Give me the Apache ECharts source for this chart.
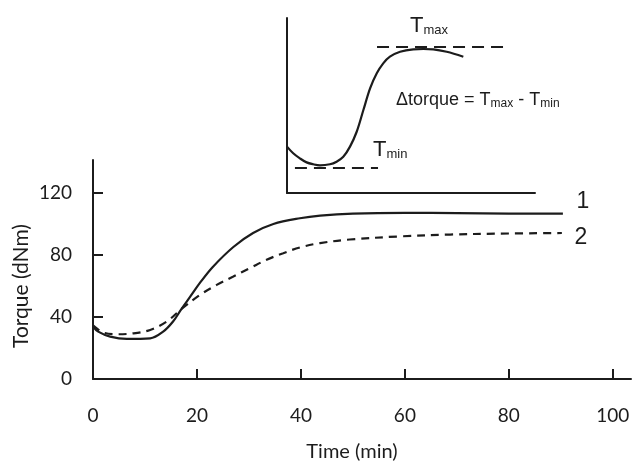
<!DOCTYPE html>
<html>
<head>
<meta charset="utf-8">
<script src="https://cdn.jsdelivr.net/npm/echarts@6/dist/echarts.min.js"></script>
<style>
html,body{margin:0;padding:0;background:#fff;}
#chart{width:634px;height:463px;}
</style>
</head>
<body>
<div id="chart"></div>
<script>
// Main chart data (time in min, torque in dNm)
var time1 = [0, 1, 3.3, 6.5, 11, 13.5, 15.4, 17, 18.7, 20.6, 23, 27, 30.8, 34.7, 39.8, 43.7, 50, 60, 70, 80, 90.4];
var torque1 = [33.8, 30.5, 27.3, 25.8, 26.2, 30.5, 37, 45, 53, 62, 72, 85, 94, 99.8, 103.5, 105.2, 106.5, 107, 106.8, 106.5, 106.5];
var time2 = [0, 2, 4.6, 7.8, 11, 14.2, 17, 20.6, 23.8, 27, 30.2, 33.4, 36.6, 39.8, 43.7, 49.4, 59, 68.7, 78, 90.2];
var torque2 = [34.5, 29.9, 28.8, 29.4, 31.6, 37, 45, 54.2, 60.6, 66, 71.4, 76.8, 81, 84.7, 87.5, 89.8, 91.8, 93, 93.6, 94];
var xTicks = [0, 20, 40, 60, 80, 100];
var yTicks = [0, 40, 80, 120];
var seriesLabels = ['1', '2'];

// Inset schematic (arbitrary units 0-100)
var insetX = [0, 2.5, 5.2, 7.9, 10.6, 13.3, 17.3, 20, 22.7, 25.4, 28.1, 30.8, 33.5, 36.2, 38.8, 41.5, 45.6, 50.9, 55, 59, 64.4, 71.1];
var insetY = [26.5, 22.7, 19.8, 17.5, 16.4, 15.8, 16.4, 17.9, 20.7, 26.5, 35, 47.4, 59.8, 68.4, 74.1, 77.9, 80.7, 82.1, 82.3, 82.1, 80.7, 77.9];
var tminLineX = [3.2, 36.7];
var tminLineY = [14.3, 14.3];
var tmaxLineX = [36.3, 87.9];
var tmaxLineY = [83.4, 83.4];

function zip(a, b) { return a.map(function (v, i) { return [v, b[i]]; }); }

var ink = '#1c1c1c';
var chart = echarts.init(document.getElementById('chart'), null, {renderer: 'canvas'});
var axisFont = 'Lato';

chart.setOption({
  animation: false,
  backgroundColor: '#ffffff',
  grid: [
    {left: 93, top: 160, width: 538, height: 219},
    {left: 287, top: 18, width: 248, height: 175}
  ],
  xAxis: [
    {
      type: 'value', gridIndex: 0, min: 0, max: 103.5,
      axisLine: {show: true, lineStyle: {color: ink, width: 2}},
      axisTick: {show: true, inside: true, length: 10, lineStyle: {color: ink, width: 2}, customValues: xTicks},
      axisLabel: {show: true, margin: 27, fontFamily: axisFont, fontSize: 19, color: ink, customValues: xTicks},
      splitLine: {show: false}
    },
    {
      type: 'value', gridIndex: 1, min: 0, max: 100,
      axisLine: {show: true, onZero: false, lineStyle: {color: ink, width: 2}},
      axisTick: {show: false}, axisLabel: {show: false}, splitLine: {show: false}
    }
  ],
  yAxis: [
    {
      type: 'value', gridIndex: 0, min: 0, max: 141,
      axisLine: {show: true, lineStyle: {color: ink, width: 2}},
      axisTick: {show: true, inside: true, length: 10, lineStyle: {color: ink, width: 2}, customValues: yTicks},
      axisLabel: {show: true, margin: 21, fontFamily: axisFont, fontSize: 19, color: ink, customValues: yTicks},
      splitLine: {show: false}
    },
    {
      type: 'value', gridIndex: 1, min: 0, max: 100,
      axisLine: {show: true, onZero: false, lineStyle: {color: ink, width: 2}},
      axisTick: {show: false}, axisLabel: {show: false}, splitLine: {show: false}
    }
  ],
  series: [
    {
      name: seriesLabels[0], type: 'line', xAxisIndex: 0, yAxisIndex: 0,
      data: zip(time1, torque1), smooth: 0.35, showSymbol: false, symbol: 'none',
      lineStyle: {color: ink, width: 2.2}, silent: true
    },
    {
      name: seriesLabels[1], type: 'line', xAxisIndex: 0, yAxisIndex: 0,
      data: zip(time2, torque2), smooth: 0.35, showSymbol: false, symbol: 'none',
      lineStyle: {color: ink, width: 2.2, type: [8, 6]}, silent: true
    },
    {
      type: 'line', xAxisIndex: 1, yAxisIndex: 1,
      data: zip(insetX, insetY), smooth: 0.35, showSymbol: false, symbol: 'none',
      lineStyle: {color: ink, width: 2.2}, silent: true
    },
    {
      type: 'line', xAxisIndex: 1, yAxisIndex: 1,
      data: zip(tminLineX, tminLineY), showSymbol: false, symbol: 'none',
      lineStyle: {color: ink, width: 2, type: [12, 7]}, silent: true
    },
    {
      type: 'line', xAxisIndex: 1, yAxisIndex: 1,
      data: zip(tmaxLineX, tmaxLineY), showSymbol: false, symbol: 'none',
      lineStyle: {color: ink, width: 2, type: [12, 7]}, silent: true
    }
  ],
  graphic: [
    {type: 'text', x: 21, y: 286, rotation: Math.PI / 2,
     style: {text: 'Torque (dNm)', font: '21px Lato', fill: ink, align: 'center', verticalAlign: 'middle'}},
    {type: 'text', x: 352, y: 452,
     style: {text: 'Time (min)', font: '20px Lato', fill: ink, align: 'center', verticalAlign: 'middle'}},
    {type: 'text', x: 583, y: 202,
     style: {text: seriesLabels[0], font: '23px "Liberation Sans"', fill: ink, align: 'center', verticalAlign: 'middle'}},
    {type: 'text', x: 581, y: 238,
     style: {text: seriesLabels[1], font: '23px "Liberation Sans"', fill: ink, align: 'center', verticalAlign: 'middle'}},
    {type: 'text', x: 410, y: 24,
     style: {text: '{m|T}{s|max}', align: 'left', verticalAlign: 'middle', fill: ink,
       rich: {
         m: {fontFamily: 'Liberation Sans', fontSize: 22, lineHeight: 26, verticalAlign: 'bottom', fill: ink},
         s: {fontFamily: 'Liberation Sans', fontSize: 13, lineHeight: 13, verticalAlign: 'bottom', fill: ink}
       }}},
    {type: 'text', x: 373, y: 148,
     style: {text: '{m|T}{s|min}', align: 'left', verticalAlign: 'middle', fill: ink,
       rich: {
         m: {fontFamily: 'Liberation Sans', fontSize: 22, lineHeight: 26, verticalAlign: 'bottom', fill: ink},
         s: {fontFamily: 'Liberation Sans', fontSize: 13, lineHeight: 13, verticalAlign: 'bottom', fill: ink}
       }}},
    {type: 'text', x: 396, y: 98.5,
     style: {text: '{m|\u0394torque = T}{s|max}{m| - T}{s|min}', align: 'left', verticalAlign: 'middle', fill: ink,
       rich: {
         m: {fontFamily: 'Liberation Sans', fontSize: 18, lineHeight: 22, verticalAlign: 'bottom', fill: ink},
         s: {fontFamily: 'Liberation Sans', fontSize: 12, lineHeight: 12, verticalAlign: 'bottom', fill: ink}
       }}}
  ]
});
</script>
</body>
</html>
